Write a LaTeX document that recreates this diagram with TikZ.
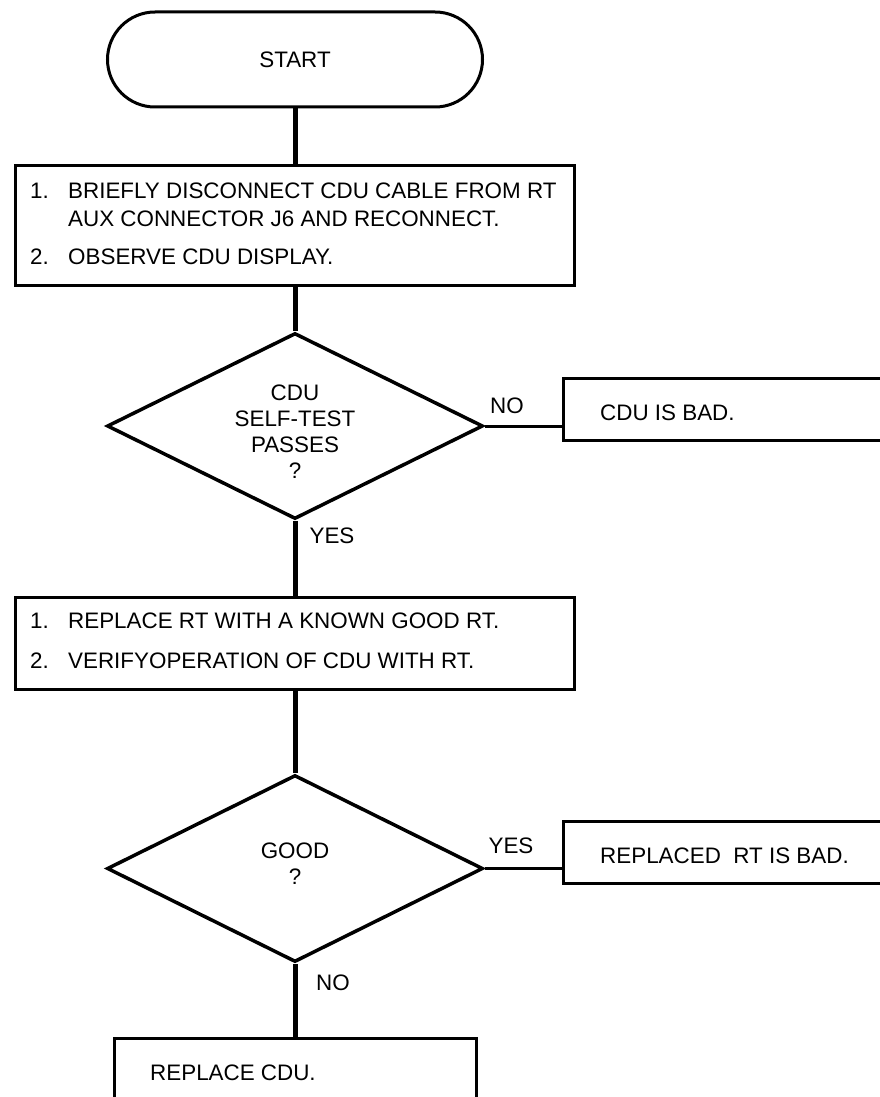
\documentclass[tikz,border=0pt]{standalone}
\usepackage{fontspec}
\setmainfont{Liberation Sans}
\usetikzlibrary{shapes.geometric,shapes.misc}
\begin{document}
\begin{tikzpicture}[x=1pt,y=-1pt,
  font=\fontsize{22.4}{26}\selectfont,
  boxstyle/.style={draw, rectangle, line width=3pt, inner sep=0pt},
  termstyle/.style={draw, rounded rectangle, line width=3pt, inner sep=0pt},
  dia/.style={draw, diamond, line width=3.5pt, inner sep=0pt},
  txt/.style={inner sep=0pt, anchor=base west, font=\fontsize{22.4}{28}\selectfont},
  lbl/.style={inner sep=0pt, anchor=base, font=\fontsize{22.4}{26}\selectfont},
  vline/.style={line width=5pt},
  hline/.style={line width=3pt}]
\useasboundingbox (0,0) rectangle (879,1097);

% shapes
\node[termstyle, minimum width=375, minimum height=95] (start) at (295,59.5) {START};
\node[boxstyle, minimum width=559, minimum height=120] (b1) at (295,225) {};
\node[dia, minimum width=376, minimum height=186] (d1) at (295,426) {};
\node[boxstyle, minimum width=340, minimum height=62] (bad1) at (733,409) {};
\node[boxstyle, minimum width=559, minimum height=92] (b2) at (295,643) {};
\node[dia, minimum width=376, minimum height=187] (d2) at (295,868.5) {};
\node[boxstyle, minimum width=340, minimum height=62] (bad2) at (733,852) {};
\node[boxstyle, minimum width=362, minimum height=92] (b4) at (295,1084) {};

% texts
\node[txt] (b1t) at (30,198) {\begin{tabular}[t]{@{}l@{}}\makebox[38pt][l]{1.}BRIEFLY DISCONNECT CDU CABLE FROM RT\\\makebox[38pt][l]{}AUX CONNECTOR J6 AND RECONNECT.\\[10pt]\makebox[38pt][l]{2.}OBSERVE CDU DISPLAY.\end{tabular}};
\node[lbl] (d1t) at (295,400) {\begin{tabular}[t]{@{}c@{}}CDU\\SELF-TEST\\PASSES\\?\end{tabular}};
\node[txt] (bad1t) at (600,420) {CDU IS BAD.};
\node[txt] (b2t) at (30,628) {\begin{tabular}[t]{@{}l@{}}\makebox[38pt][l]{1.}REPLACE RT WITH A KNOWN GOOD RT.\\[12pt]\makebox[38pt][l]{2.}VERIFYOPERATION OF CDU WITH RT.\end{tabular}};
\node[lbl] (d2t) at (295,858) {\begin{tabular}[t]{@{}c@{}}GOOD\\?\end{tabular}};
\node[txt] (bad2t) at (600,863) {REPLACED\ \ RT IS BAD.};
\node[txt] (b4t) at (150,1080) {REPLACE CDU.};

% labels
\node[lbl] (no1) at (507,413) {NO};
\node[lbl] (yes1) at (332,543) {YES};
\node[lbl] (yes2) at (511,853) {YES};
\node[lbl] (no2) at (333,990) {NO};

% connectors
\draw[vline] (start.south) -- (b1.north);
\draw[vline] (b1.south) -- (d1.north);
\draw[hline] (d1.east) -- (d1.east -| bad1.west);
\draw[vline] (d1.south) -- (b2.north);
\draw[vline] (b2.south) -- (d2.north);
\draw[hline] (d2.east) -- (d2.east -| bad2.west);
\draw[vline] (d2.south) -- (b4.north);
\end{tikzpicture}
\end{document}
